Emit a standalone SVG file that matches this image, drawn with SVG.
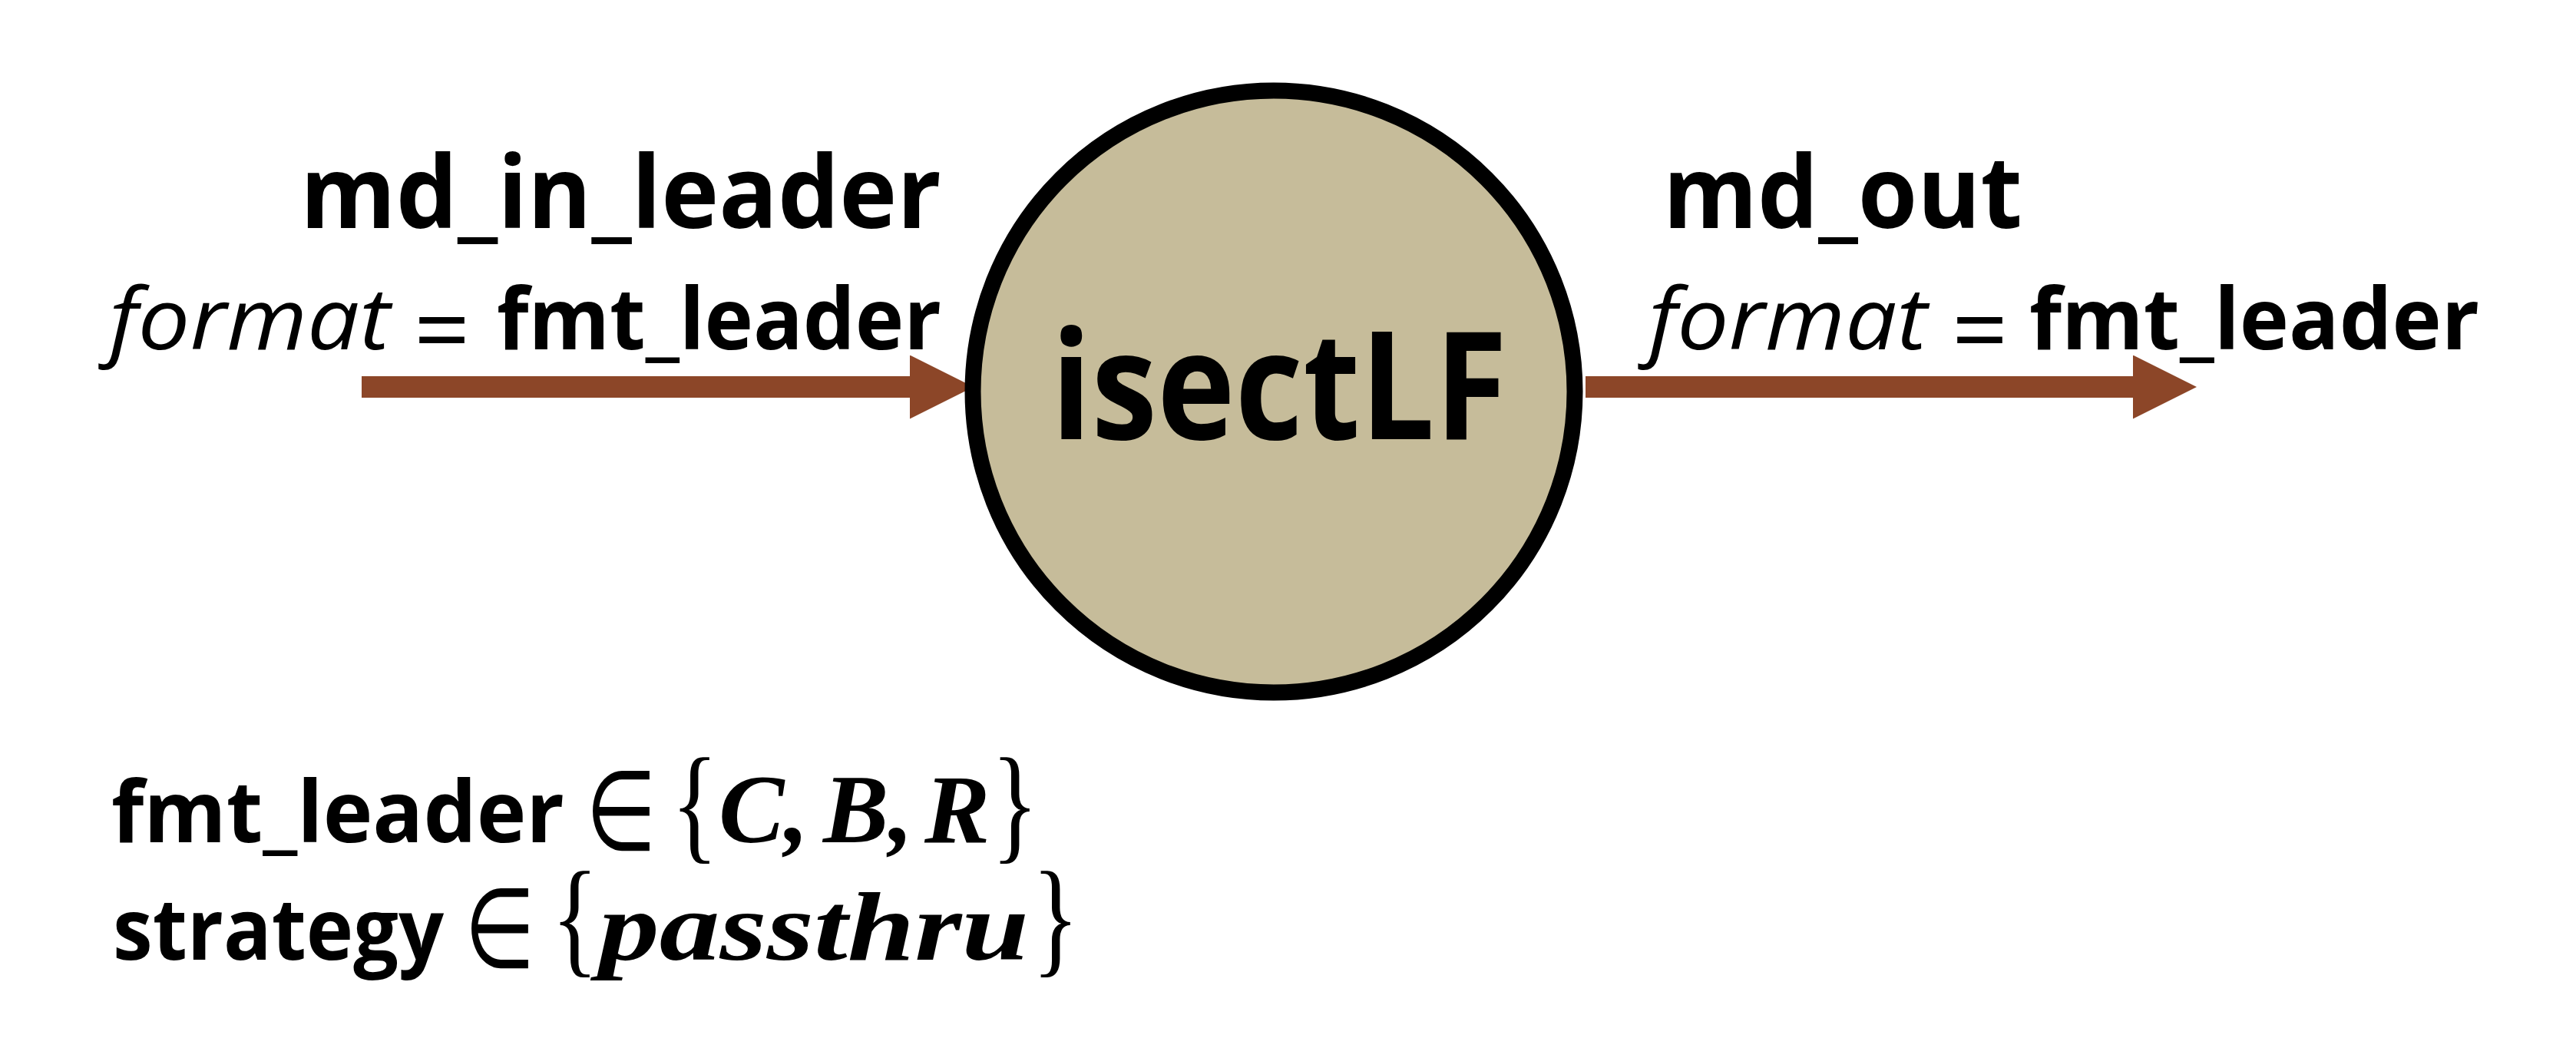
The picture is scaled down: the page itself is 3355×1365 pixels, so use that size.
<svg xmlns="http://www.w3.org/2000/svg" width="3355" height="1365" viewBox="0 0 3355 1365">
<style>
.b{font-family:"Open Sans","Liberation Sans",sans-serif;font-weight:700;font-style:normal;fill:#000}
.i{font-family:"Open Sans","Liberation Sans",sans-serif;font-style:italic;font-weight:400;fill:#000}
.eq{font-family:"Open Sans","Liberation Sans",sans-serif;font-style:normal;font-weight:400;fill:#000}
.m{font-family:"Liberation Serif","DejaVu Serif",serif;font-style:italic;font-weight:700;fill:#000}
.r{font-family:"Liberation Serif","DejaVu Serif",serif;font-style:normal;font-weight:400;fill:#000}
.el{font-family:"DejaVu Sans","Liberation Sans",sans-serif;font-style:normal;font-weight:400;fill:#000}
.arrow{stroke:#8C4628;stroke-width:28;fill:none}
</style>
<defs>
<marker id="ah" viewBox="0 0 83 83" refX="0" refY="41.5" markerWidth="83" markerHeight="83" markerUnits="userSpaceOnUse" orient="auto">
<path d="M0,0 L83,41.5 L0,83 Z" fill="#8C4628"/>
</marker>
</defs>
<rect width="3355" height="1365" fill="#fff"/>
<g id="connectors">
<line class="arrow" x1="471" y1="504" x2="1185" y2="504" marker-end="url(#ah)"/>
<line class="arrow" x1="2065" y1="504" x2="2778" y2="504" marker-end="url(#ah)"/>
</g>
<g id="node-isectLF">
<circle cx="1659" cy="510" r="392" fill="#C6BC9A" stroke="#000" stroke-width="21"/>
<text class="b" x="1369" y="572" font-size="196" textLength="594" lengthAdjust="spacingAndGlyphs">isectLF</text>
</g>
<g id="label-in">
<text class="b" x="391" y="297" font-size="131" textLength="835" lengthAdjust="spacingAndGlyphs">md_in_leader</text>
<text y="455"><tspan class="i" x="142" font-size="112" textLength="366" lengthAdjust="spacingAndGlyphs">format</tspan><tspan class="eq" x="539" dy="20" font-size="128">=</tspan><tspan class="b" x="647" dy="-20" font-size="112" textLength="579" lengthAdjust="spacingAndGlyphs">fmt_leader</tspan></text>
</g>
<g id="label-out">
<text class="b" x="2166" y="297" font-size="131" textLength="468" lengthAdjust="spacingAndGlyphs">md_out</text>
<text y="455"><tspan class="i" x="2147" font-size="112" textLength="363" lengthAdjust="spacingAndGlyphs">format</tspan><tspan class="eq" x="2542" dy="20" font-size="128">=</tspan><tspan class="b" x="2643" dy="-20" font-size="112" textLength="586" lengthAdjust="spacingAndGlyphs">fmt_leader</tspan></text>
</g>
<g id="legend">
<text class="b" x="145" y="1097" font-size="112" textLength="590" lengthAdjust="spacingAndGlyphs">fmt_leader</text>
<text class="el" transform="translate(763,1107) scale(0.727,1)" x="0" y="0" font-size="145">∈</text>
<text class="r" transform="translate(874,1103) scale(1,1.3)" x="0" y="0" font-size="128">{</text>
<text class="m" y="1097" font-size="128"><tspan x="936">C,</tspan><tspan x="1072">B,</tspan><tspan x="1204">R</tspan></text>
<text class="r" transform="translate(1291,1103) scale(1,1.3)" x="0" y="0" font-size="128">}</text>
<text class="b" x="147" y="1250" font-size="112" textLength="431" lengthAdjust="spacingAndGlyphs">strategy</text>
<text class="el" transform="translate(605,1260) scale(0.727,1)" x="0" y="0" font-size="145">∈</text>
<text class="r" transform="translate(718,1251) scale(1,1.3)" x="0" y="0" font-size="128">{</text>
<text class="m" x="780" y="1250" font-size="128" textLength="560" lengthAdjust="spacingAndGlyphs">passthru</text>
<text class="r" transform="translate(1344,1251) scale(1,1.3)" x="0" y="0" font-size="128">}</text>
</g>
</svg>
